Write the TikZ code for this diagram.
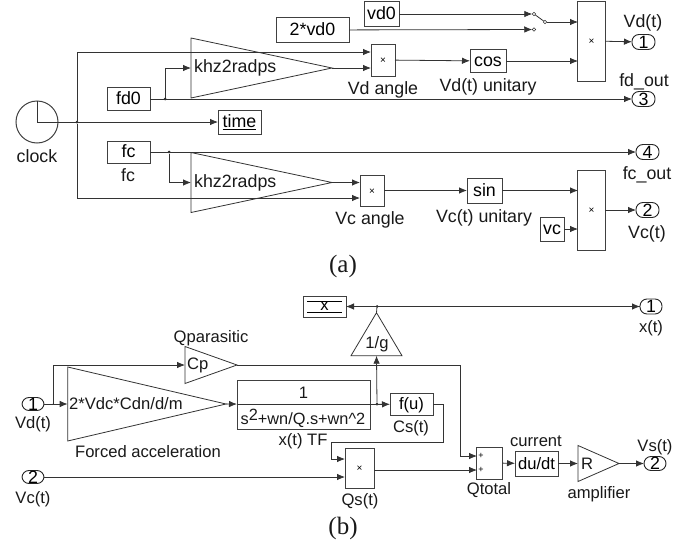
\documentclass[tikz,border=0pt]{standalone}
\usepackage{fontspec}
\setmainfont{Liberation Sans}
\newfontfamily\capfont{Liberation Serif}
\usetikzlibrary{arrows.meta,shapes.geometric}
\newcommand{\blkfont}{\fontsize{17.8}{20}\selectfont}
\tikzset{
  blkbox/.style={draw=black!75, line width=1pt, inner sep=0pt, outer sep=0pt, text height=11pt, text depth=0pt, font=\blkfont},
  prodbox/.style={blkbox, text height=7pt, font=\fontsize{10}{10}\selectfont},
  gainbox/.style={isosceles triangle, isosceles triangle stretches, draw=black!80, line width=0.8pt, inner sep=0pt, outer sep=0pt},
  portbox/.style={draw=black!85, line width=0.9pt, rounded corners=7pt, minimum width=23pt, minimum height=15pt, inner sep=0pt, outer sep=0pt, font=\fontsize{17.8}{20}\selectfont},
  lbl/.style={inner sep=0pt, font=\blkfont, text=black!90},
  sig/.style={-{Latex[length=8pt,width=6.5pt]}, line width=0.8pt, draw=black!80},
  wire/.style={line width=0.8pt, draw=black!80},
  junc/.style={circle, fill=black!85, minimum size=3pt, inner sep=0pt, outer sep=0pt},
  contact/.style={circle, draw=black!80, line width=0.7pt, minimum size=3.5pt, inner sep=0pt, outer sep=0pt}
}
\begin{document}
\begin{tikzpicture}[x=1pt,y=-1pt]
\useasboundingbox (0,0) rectangle (697,546);
% (a)
\node[blkbox,circle,minimum size=42pt] (clock) at (37,122) {};
\draw[wire] (clock.north) -- (clock.center) -- (clock.east);
\node[lbl] (clockname) at (37,156) {clock};
\node[blkbox,minimum width=73pt,minimum height=25pt] (vdtwo) at (312.5,30) {2*vd0};
\node[blkbox,minimum width=35pt,minimum height=25pt] (vdzero) at (381.5,14) {vd0};
\node[blkbox,minimum width=43pt,minimum height=23pt] (fdzero) at (128.5,99) {fd0};
\node[blkbox,minimum width=43pt,minimum height=24pt] (timebox) at (239.5,122) {\underline{time}};
\node[blkbox,minimum width=43pt,minimum height=22pt] (fcbox) at (128.5,152) {fc};
\node[lbl] (fcname) at (128,175) {fc};
\node[gainbox,minimum width=60pt,minimum height=141pt,anchor=lower side] (gainvd) at (191,68) {};
\node[lbl,anchor=west] (gainvdtxt) at (194,68) {khz2radps};
\node[gainbox,minimum width=60pt,minimum height=141pt,anchor=lower side] (gainvc) at (191,182.5) {};
\node[lbl,anchor=west] (gainvctxt) at (194,182.5) {khz2radps};
\node[prodbox,minimum width=24pt,minimum height=32pt] (prodvd) at (383,60) {×};
\node[lbl] (prodvdname) at (383,90) {Vd angle};
\node[prodbox,minimum width=24pt,minimum height=31pt] (prodvc) at (372,190.5) {×};
\node[lbl] (prodvcname) at (370,220) {Vc angle};
\node[blkbox,minimum width=36pt,minimum height=23pt] (cosbox) at (488,61) {cos};
\node[lbl] (cosname) at (488,87) {Vd(t) unitary};
\node[blkbox,minimum width=35pt,minimum height=25pt] (sinbox) at (484.5,190.5) {sin};
\node[lbl] (sinname) at (484,218) {Vc(t) unitary};
\node[blkbox,minimum width=24pt,minimum height=24pt] (vcbox) at (552,229) {vc};
\node[contact] (swa) at (534,14) {};
\node[contact] (swb) at (534,29.5) {};
\node[contact] (swc) at (545,22) {};
\node[prodbox,minimum width=27.5pt,minimum height=80pt] (prodout) at (591.5,41) {×};
\node[prodbox,minimum width=27.5pt,minimum height=80pt] (prodvcout) at (591.5,210) {×};
\node[portbox] (outone) at (643.5,42) {1};
\node[lbl] (outonename) at (643,23) {Vd(t)};
\node[portbox] (outthree) at (643.5,99) {3};
\node[lbl] (outthreename) at (644,82) {fd\_out};
\node[portbox] (outfour) at (647.5,152) {4};
\node[lbl] (outfourname) at (647,175) {fc\_out};
\node[portbox] (outtwo) at (647.5,210) {2};
\node[lbl] (outtwoname) at (647,234) {Vc(t)};
\node[lbl,font=\capfont\fontsize{25}{27}\selectfont] (capa) at (343,266) {(a)};
\node[junc] (jclock) at (77,122) {};
\node[junc] (jfd) at (165,99) {};
\node[junc] (jfc) at (169,152) {};
\coordinate (prodvdup) at (371,52);
\coordinate (prodvdlow) at (371,68);
\coordinate (prodvcup) at (360,182.5);
\coordinate (prodvclow) at (360,198);
\coordinate (prodoutsw) at (578,22);
\coordinate (prodoutcos) at (578,61);
\coordinate (prodvcsin) at (578,190.5);
\coordinate (prodvcvc) at (578,229);
\draw[sig] (clock.east) -- (timebox);
\draw[sig] (jclock) |- (prodvdup);
\draw[sig] (jclock) |- (prodvclow);
\draw[sig] (fdzero) -- (outthree);
\draw[sig] (jfd) |- (gainvd.lower side);
\draw[sig] (fcbox) -- (outfour);
\draw[sig] (jfc) |- (gainvc.lower side);
\draw[sig] (gainvd.apex) -- (prodvdlow);
\draw[sig] (gainvc.apex) -- (prodvcup);
\draw[sig] (prodvd) -- (cosbox);
\draw[sig] (cosbox) -- (prodoutcos);
\draw[sig] (prodvc) -- (sinbox);
\draw[sig] (sinbox) -- (prodvcsin);
\draw[sig] (vcbox) -- (prodvcvc);
\draw[sig] (vdzero) -- (swa);
\draw[sig] (vdtwo) -- (swb);
\draw[wire] (swa) -- (swc);
\draw[sig] (swc) -- (prodoutsw);
\draw[sig] (prodout) -- (outone);
\draw[sig] (prodvcout) -- (outtwo);
% (b), set a little smaller
\renewcommand{\blkfont}{\fontsize{16.6}{19}\selectfont}
\node[blkbox,minimum width=43pt,minimum height=21pt,text height=,text depth=] (gotox) at (324.5,306.5) {$\overline{\underline{\makebox[35pt]{\blkfont x}}}$};
\node[portbox,minimum width=22pt] (outx) at (651,306.5) {1};
\node[lbl] (outxname) at (651,328) {x(t)};
\node[junc] (jx) at (377,306.5) {};
\node[gainbox,shape border rotate=90,minimum width=51pt,minimum height=43pt,anchor=lower side] (gaing) at (376.5,355.7) {};
\node[lbl] (gaingtxt) at (377,344) {1/g};
\node[portbox,minimum width=22pt,minimum height=13pt] (invd) at (33,404) {1};
\node[lbl] (invdname) at (33,424) {Vd(t)};
\node[portbox,minimum width=22pt,minimum height=13pt] (invc) at (33,477) {2};
\node[lbl] (invcname) at (33,499) {Vc(t)};
\node[junc,minimum size=1pt] (jvd) at (53,404) {};
\node[gainbox,minimum width=37pt,minimum height=52pt,anchor=lower side] (gaincp) at (185,365) {};
\node[lbl,anchor=west] (gaincptxt) at (187,365) {Cp};
\node[lbl] (gaincpname) at (211,338.5) {Qparasitic};
\node[gainbox,minimum width=74pt,minimum height=158.3pt,anchor=lower side] (gainf) at (67.7,404) {};
\node[lbl,anchor=west] (gainftxt) at (69,404) {2*Vdc*Cdn/d/m};
\node[lbl] (gainfname) at (148,452) {Forced acceleration};
\node[blkbox,minimum width=133pt,minimum height=49pt] (tfbox) at (303.5,404.5) {};
\draw[wire] (tfbox.west) -- (tfbox.east);
\node[lbl] (tfnum) at (303.5,393) {1};
\node[lbl,font=\fontsize{16.3}{18}\selectfont] (tfden) at (303,418) {s\raisebox{4pt}{2}+wn/Q.s+wn\^{}2};
\node[lbl] (tfname) at (303,441) {x(t) TF};
\node[junc] (jtf) at (377,404) {};
\node[blkbox,minimum width=43pt,minimum height=22pt] (fubox) at (411.5,404) {f(u)};
\node[lbl] (funame) at (411,428) {Cs(t)};
\node[prodbox,minimum width=29pt,minimum height=40pt] (prodqs) at (359.5,468) {×};
\node[lbl] (prodqsname) at (360,501) {Qs(t)};
\node[blkbox,minimum width=25.7pt,minimum height=32pt] (qtotal) at (489.8,463) {};
\node[inner sep=0pt,font=\fontsize{9}{9}\selectfont] (plusa) at (481,456) {+};
\node[inner sep=0pt,font=\fontsize{9}{9}\selectfont] (plusb) at (481,470) {+};
\node[lbl] (qtotalname) at (489,490) {Qtotal};
\node[blkbox,minimum width=43pt,minimum height=25pt] (dubox) at (536.5,463.5) {du/dt};
\node[lbl] (duname) at (536,441) {current};
\node[gainbox,minimum width=36pt,minimum height=41pt,anchor=lower side] (gainr) at (578,463.5) {};
\node[lbl,anchor=west] (gainrtxt) at (581,463.5) {R};
\node[lbl] (gainrname) at (599,494) {amplifier};
\node[portbox,minimum width=22pt,minimum height=14pt] (outvs) at (655,463.5) {2};
\node[lbl] (outvsname) at (655,447) {Vs(t)};
\node[lbl,font=\capfont\fontsize{25}{27}\selectfont] (capb) at (343,528) {(b)};
\coordinate (prodqsup) at (345,459);
\coordinate (prodqslow) at (345,477);
\coordinate (qtotalup) at (477,456);
\coordinate (qtotallow) at (477,470);
\coordinate (fubend) at (443,404);
\coordinate (fuback) at (331,442);
\coordinate (cpbend) at (460,365);
\draw[sig] (outx.west) -- (gotox);
\draw[sig] (jx) -- (outx);
\draw[wire] (gaing.apex) -- (jx);
\draw[sig] (jtf) -- (gaing.lower side);
\draw[sig] (tfbox.east) -- (fubox);
\draw[sig] (invd) -- (gainf.lower side);
\draw[sig] (jvd) |- (gaincp.lower side);
\draw[sig] (gainf.apex) -- (tfbox);
\draw[sig] (invc) -- (prodqslow);
\draw[wire] (fubox) -- (fubend) |- (fuback);
\draw[sig] (fuback) |- (prodqsup);
\draw[sig] (gaincp.apex) -- (cpbend) |- (qtotalup);
\draw[sig] (prodqs.east |- qtotallow) -- (qtotallow);
\draw[sig] (qtotal) -- (dubox);
\draw[sig] (dubox) -- (gainr.lower side);
\draw[sig] (gainr.apex) -- (outvs);
\end{tikzpicture}
\end{document}
